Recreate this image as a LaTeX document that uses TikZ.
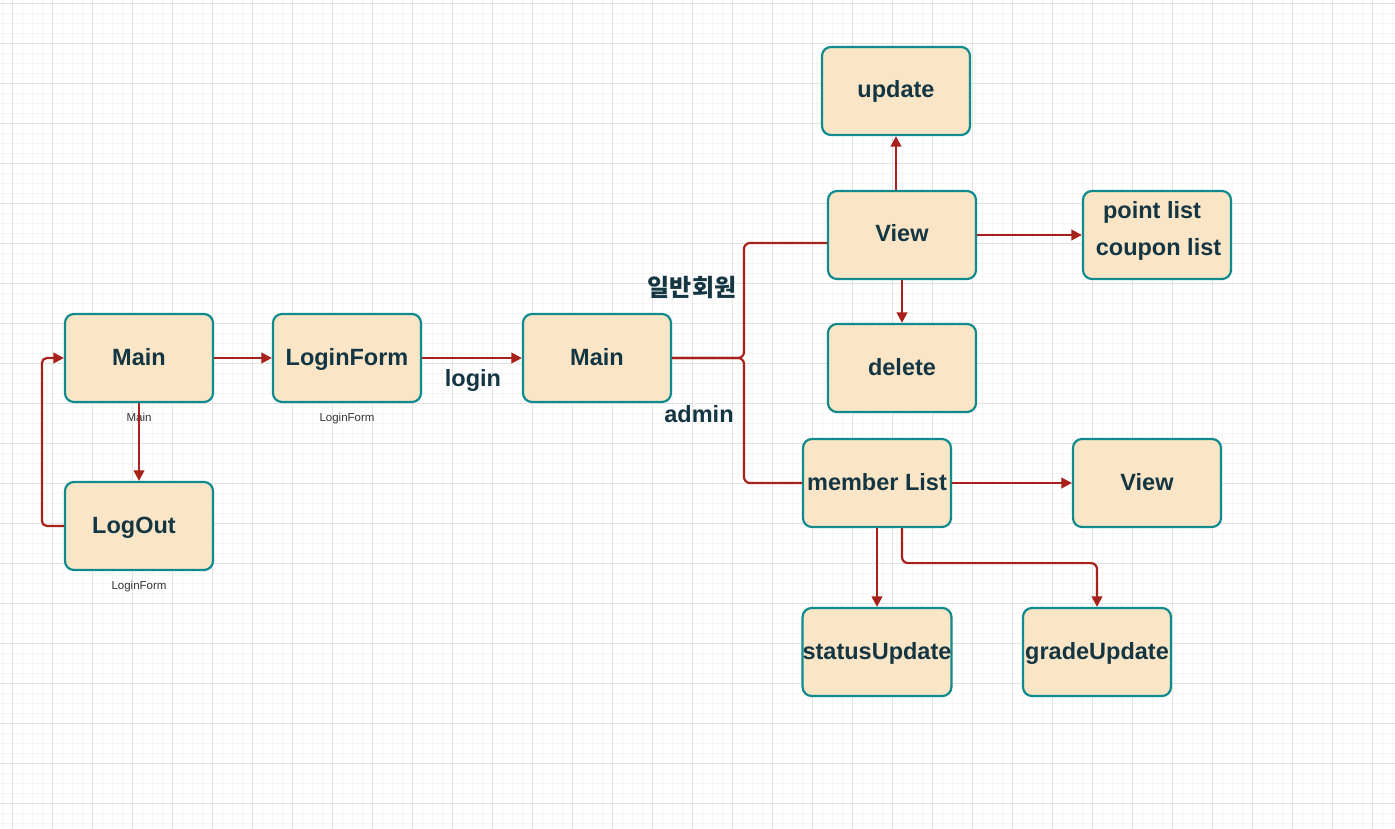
\documentclass[tikz,border=0pt]{standalone}
\usepackage{fontspec}
\setmainfont{Liberation Sans}
\newfontfamily\krfont{Noto Sans CJK KR}
\usetikzlibrary{arrows.meta,calc}
\definecolor{edgec}{HTML}{A8201A}
\definecolor{boxdraw}{HTML}{0F8B8D}
\definecolor{boxfill}{HTML}{FAE5C7}
\definecolor{txt}{HTML}{143642}
\definecolor{gridmajor}{HTML}{E2E2E2}
\definecolor{gridminor}{HTML}{F5F5F5}
\definecolor{small}{HTML}{333333}
\tikzset{
  box/.style={draw=boxdraw, fill=boxfill, line width=2.2pt, rounded corners=9pt,
    minimum width=148pt, minimum height=88pt, inner sep=0pt, text=txt,
    font=\fontsize{23.5}{28}\selectfont\bfseries, text height=17pt, text depth=3pt},
  boxtext/.style={text=txt, inner sep=0pt, font=\fontsize{23.5}{28}\selectfont\bfseries,
    text height=17pt, text depth=3pt},
  smalllbl/.style={text=small, inner sep=0pt, anchor=base, font=\fontsize{11.5}{14}\selectfont},
  edge/.style={draw=edgec, line width=2.2pt, -{Triangle[length=10.5pt,width=10.5pt]}},
  plainedge/.style={draw=edgec, line width=2.2pt},
}
\begin{document}
\begin{tikzpicture}[x=1pt,y=-1pt]
\useasboundingbox (0,0) rectangle (1395,829);
\fill[white] (0,0) rectangle (1395,829);
% grid
\begin{scope}
\clip (0,0) rectangle (1395,829);
\foreach \i in {0,...,139} {\draw[gridminor, line width=0.9pt] ({2.3+10*\i},0) -- ({2.3+10*\i},829);}
\foreach \j in {0,...,82} {\draw[gridminor, line width=0.9pt] (0,{3.3+10*\j}) -- (1395,{3.3+10*\j});}
\foreach \i in {0,...,34} {\draw[gridmajor, line width=0.9pt] ({12.3+40*\i},0) -- ({12.3+40*\i},829);}
\foreach \j in {0,...,20} {\draw[gridmajor, line width=0.9pt] (0,{3.3+40*\j}) -- (1395,{3.3+40*\j});}
\end{scope}

% nodes
\node[box] (main1) at (139,358) {Main};
\node[box] (loginform) at (347,358) {LoginForm};
\node[box] (logout) at (139,526) {LogOut\hspace*{10pt}};
\node[box] (main2) at (597,358) {Main};
\node[box] (update) at (896,91) {update};
\node[box] (view1) at (902,235) {View};
\node[box] (points) at (1157,235) {};
\node[boxtext] (pl1) at (1152,212) {point list};
\node[boxtext] (pl2) at (1158.5,248) {coupon list};
\node[box] (delete) at (902,368) {delete};
\node[box] (memberlist) at (877,483) {member List};
\node[box] (view2) at (1147,483) {View};
\node[box] (status) at (877,652) {statusUpdate};
\node[box] (grade) at (1097,652) {gradeUpdate};

% small labels
\node[smalllbl] (lblmain) at (139,421) {Main};
\node[smalllbl] (lbllf) at (347,421) {LoginForm};
\node[smalllbl] (lbllo) at (139,589) {LoginForm};

% edge labels
\node[boxtext] (llogin) at (473,379) {login};
\node[boxtext] (ladmin) at (699,415) {admin};
\node[text=txt, inner sep=0pt, font=\krfont\fontsize{24}{28}\selectfont\bfseries] (lgeneral) at (692,288) {일반회원};

% connectors
\coordinate (j) at (744,358);
\coordinate (vin) at ($(view1.west)+(0,8)$);
\draw[edge] (main1) -- (loginform);
\draw[edge] (loginform) -- (main2);
\draw[edge] (main1) -- (logout);
\draw[edge, rounded corners=5pt] (logout.west) -- ++(-22,0) |- (main1.west);
\draw[plainedge, rounded corners=6pt] (main2.east) -- (j) |- (vin);
\draw[plainedge, rounded corners=6pt] (main2.east) -- (j) |- (memberlist.west);
\draw[edge] (update.south |- view1.north) -- (update.south);
\draw[edge] (view1) -- (points);
\draw[edge] (view1) -- (delete);
\draw[edge] (memberlist) -- (view2);
\draw[edge] (memberlist) -- (status);
\coordinate (ms2) at ($(memberlist.south)+(25,0)$);
\draw[edge, rounded corners=6pt] (ms2) -- ++(0,35) -| (grade.north);
\end{tikzpicture}
\end{document}
